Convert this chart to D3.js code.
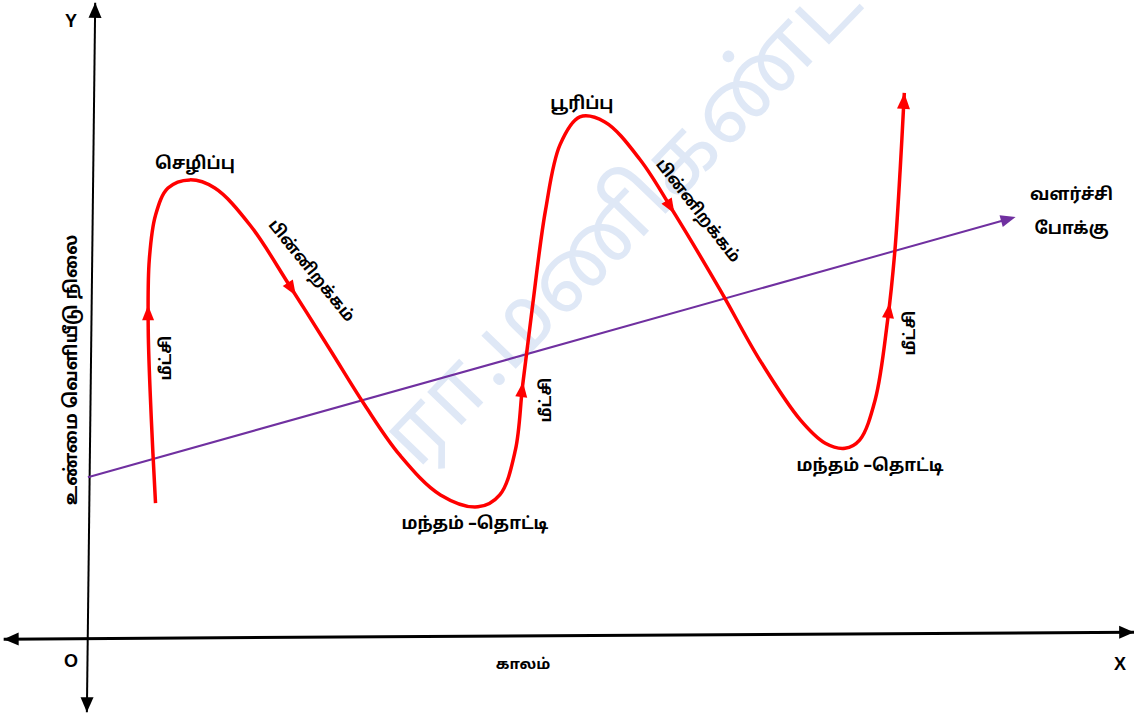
<!DOCTYPE html>
<html>
<head>
<meta charset="utf-8">
<style>
  body { margin: 0; background: #fff; }
  svg text {
      font-family: "Noto Sans Tamil", "Latha", "Liberation Sans", sans-serif;
      font-weight: bold;
      fill: #000;
  }
</style>
</head>
<body>
<script src="https://cdn.jsdelivr.net/npm/d3@7"></script>
<script>
var width = 1134, height = 713;

// business cycle: time (0-100) against real output level (0-100)
var cycleTime  = [6.3, 5.9, 5.6, 5.7, 6.3, 7.5, 9.6, 12.0, 15.4, 19.2, 23.1, 26.4, 29.8, 33.7, 37.3,
                  39.4, 40.9, 41.6, 42.5, 43.8, 45.2, 47.1, 49.5, 52.9, 56.3, 60.6, 64.4, 68.3, 70.7,
                  72.6, 74.0, 75.5, 76.7, 77.4, 77.9, 78.3];
var cycleLevel = [21.1, 34.3, 48.6, 59.7, 66.8, 71.1, 72.4, 71.1, 65.2, 55.6, 45.4, 36.7, 28.7, 22.4, 20.5,
                  22.4, 29.5, 39.8, 51.7, 67.6, 78.0, 82.4, 81.6, 75.6, 66.8, 54.9, 43.8, 34.3, 30.6,
                  29.8, 31.1, 37.5, 50.2, 61.3, 74.0, 86.2];

// direction arrows along the cycle
var arrowTime  = [5.6, 19.5, 41.6, 55.9, 76.7];
var arrowLevel = [52.5, 53.8, 40.3, 66.8, 52.9];
var arrowNames = ["மீட்சி", "பின்னிறக்கம்", "மீட்சி", "பின்னிறக்கம்", "மீட்சி"];

var peakNames   = ["செழிப்பு", "பூரிப்பு"];
var troughNames = ["மந்தம் –தொட்டி", "மந்தம் –தொட்டி"];

// long run growth trend
var trendTime  = [-0.2, 89.0];
var trendLevel = [25.2, 66.5];
var trendName  = ["வளர்ச்சி", "போக்கு"];

// axes (slightly tilted as in the drawing)
var xAxisTime  = [-8.3, 100.4];
var xAxisLevel = [-0.5, 0.6];
var yAxisTime  = [-0.3, 0.5];
var yAxisLevel = [-12.1, 100.5];

var x = d3.scaleLinear().domain([0, 100]).range([90, 1130]);
var y = d3.scaleLinear().domain([0, 100]).range([636, 6]);

var svg = d3.select("body").append("svg")
    .attr("width", width)
    .attr("height", height);

// watermark
svg.append("text")
    .attr("transform", "translate(418,470) rotate(-46)")
    .style("font-size", "86px")
    .style("font-weight", "normal")
    .style("fill", "#dfe8f6")
    .text("ரா.மணிகண்டன்");

function head(g, tx, ty, ang, len, wid, col) {
    g.append("path")
        .attr("d", "M0,0L" + (-len) + "," + (-wid / 2) + "L" + (-len) + "," + (wid / 2) + "Z")
        .attr("transform", "translate(" + tx + "," + ty + ") rotate(" + ang + ")")
        .style("fill", col);
}

function axisLine(ts, ls, sw) {
    var x0 = x(ts[0]), y0 = y(ls[0]), x1 = x(ts[1]), y1 = y(ls[1]);
    svg.append("line")
        .attr("x1", x0).attr("y1", y0).attr("x2", x1).attr("y2", y1)
        .style("stroke", "#000").style("stroke-width", sw);
    var a = Math.atan2(y1 - y0, x1 - x0) * 180 / Math.PI;
    head(svg, x1, y1, a, 15, 13, "#000");
    head(svg, x0, y0, a + 180, 15, 13, "#000");
}

axisLine(xAxisTime, xAxisLevel, 3);
axisLine(yAxisTime, yAxisLevel, 2);

svg.append("text").attr("x", 71).attr("y", 27).attr("text-anchor", "middle")
    .style("font-size", "18px").style("font-family", "Liberation Sans").text("Y");
svg.append("text").attr("x", 71).attr("y", 667).attr("text-anchor", "middle")
    .style("font-size", "18px").style("font-family", "Liberation Sans").text("O");
svg.append("text").attr("x", 1120).attr("y", 670).attr("text-anchor", "middle")
    .style("font-size", "18px").style("font-family", "Liberation Sans").text("X");
svg.append("text").attr("x", 523).attr("y", 669).attr("text-anchor", "middle")
    .style("font-size", "15px").text("காலம்");
svg.append("text")
    .attr("transform", "translate(77,370) rotate(-90)")
    .attr("text-anchor", "middle")
    .style("font-size", "18px")
    .text("உண்மை வெளியீடு நிலை");

// trend line
var tx0 = x(trendTime[0]), ty0 = y(trendLevel[0]), tx1 = x(trendTime[1]), ty1 = y(trendLevel[1]);
svg.append("line")
    .attr("x1", tx0).attr("y1", ty0).attr("x2", tx1 - 8).attr("y2", ty1 + 2.2)
    .style("stroke", "#7030a0").style("stroke-width", 2);
head(svg, tx1, ty1, Math.atan2(ty1 - ty0, tx1 - tx0) * 180 / Math.PI, 15, 12, "#7030a0");
svg.selectAll(".trend").data(trendName).enter().append("text")
    .attr("x", tx1 + 56)
    .attr("y", function(d, i) { return ty1 - 17 + i * 34; })
    .attr("text-anchor", "middle")
    .style("font-size", "17px")
    .text(function(d) { return d; });

// cycle curve
var pts = cycleTime.map(function(t, i) { return [x(t), y(cycleLevel[i])]; });
var line = d3.line().curve(d3.curveCatmullRom.alpha(0.5));
var curve = svg.append("path")
    .attr("d", line(pts))
    .style("fill", "none")
    .style("stroke", "#ff0000")
    .style("stroke-width", 3.5);

var node = curve.node(), total = node.getTotalLength();
function nearest(px, py) {
    var best = 0, bd = Infinity;
    for (var l = 0; l <= total; l += 0.5) {
        var p = node.getPointAtLength(l);
        var d = (p.x - px) * (p.x - px) + (p.y - py) * (p.y - py);
        if (d < bd) { bd = d; best = l; }
    }
    return best;
}
function angleAt(l) {
    var a = node.getPointAtLength(Math.max(0, l - 3)), b = node.getPointAtLength(Math.min(total, l + 3));
    return Math.atan2(b.y - a.y, b.x - a.x) * 180 / Math.PI;
}

// label offsets for each arrow (px)
var arrowLab = [
    {dx: 17, dy: 53, rot: -90},
    {dx: 16, dy: -25, rot: 51},
    {dx: 22, dy: 18, rot: -90},
    {dx: 24, dy: -3, rot: 52},
    {dx: 20, dy: 30, rot: -90}
];
arrowTime.forEach(function(t, i) {
    var l = nearest(x(t), y(arrowLevel[i]));
    var p = node.getPointAtLength(l);
    head(svg, p.x, p.y, angleAt(l), 15, 12, "#ff0000");
    var o = arrowLab[i];
    svg.append("text")
        .attr("transform", "translate(" + (p.x + o.dx) + "," + (p.y + o.dy) + ") rotate(" + o.rot + ")")
        .attr("text-anchor", "middle")
        .attr("dy", "0.35em")
        .style("font-size", "16px")
        .text(arrowNames[i]);
});
var endL = total;
var pe = node.getPointAtLength(endL);
head(svg, pe.x, pe.y, angleAt(endL - 3), 16, 13, "#ff0000");

// peaks and troughs of the cycle
var peaks = [], troughs = [];
for (var i = 1; i < cycleLevel.length - 1; i++) {
    if (cycleLevel[i] > cycleLevel[i - 1] && cycleLevel[i] > cycleLevel[i + 1]) peaks.push(i);
    if (cycleLevel[i] < cycleLevel[i - 1] && cycleLevel[i] < cycleLevel[i + 1]) troughs.push(i);
}
var peakShift = [[5, -11], [2, -8]];
peaks.forEach(function(k, j) {
    svg.append("text")
        .attr("x", x(cycleTime[k]) + peakShift[j][0])
        .attr("y", y(cycleLevel[k]) + peakShift[j][1])
        .attr("text-anchor", "middle")
        .style("font-size", "17px")
        .text(peakNames[j]);
});
var troughShift = [[-3, 22], [25, 23]];
troughs.forEach(function(k, j) {
    svg.append("text")
        .attr("x", x(cycleTime[k]) + troughShift[j][0])
        .attr("y", y(cycleLevel[k]) + troughShift[j][1])
        .attr("text-anchor", "middle")
        .style("font-size", "17px")
        .text(troughNames[j]);
});
</script>
</body>
</html>
